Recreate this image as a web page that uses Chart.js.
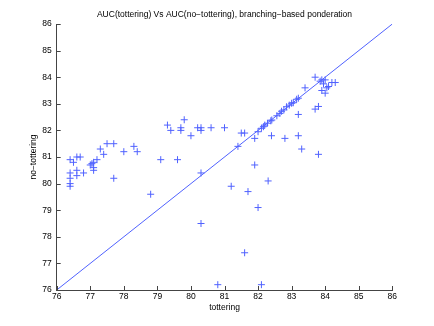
<!DOCTYPE html>
<html>
<head>
<meta charset="utf-8">
<script src="https://cdn.jsdelivr.net/npm/chart.js@4/dist/chart.umd.min.js"></script>
<style>
html,body{margin:0;padding:0;background:#fff;}
#wrap{width:434px;height:326px;position:relative;}
</style>
</head>
<body>
<div id="wrap"><canvas id="c" width="434" height="326"></canvas></div>
<script>
// Data
const totteringX = [
  76.4,76.5,76.6,76.7,
  76.4,76.6,76.6,76.8,
  76.4,76.4,76.4,
  77.0,77.05,77.1,77.1,77.1,77.2,
  77.3,77.4,77.5,77.7,77.7,
  78.0,78.3,78.4,
  78.8,79.1,79.6,
  79.3,79.4,79.7,79.7,79.8,80.0,
  80.2,80.3,80.3,80.6,81.0,
  80.3,80.3,80.8,81.2,
  81.4,81.5,81.6,
  81.6,81.7,81.9,81.9,82.0,82.1,82.3,82.4,
  82.0,82.1,82.16,82.2,82.28,82.38,82.41,82.56,82.65,82.7,82.77,82.85,82.93,83.0,83.05,83.15,83.2,
  83.4,
  82.8,83.2,83.3,83.8,83.2,83.7,83.8,
  83.7,83.85,83.9,83.95,84.0,84.2,84.3,84.05,84.1,83.9,84.0
];
const noTotteringY = [
  80.9,80.8,81.0,81.0,
  80.4,80.5,80.3,80.4,
  80.2,80.0,79.9,
  80.7,80.75,80.8,80.6,80.5,80.9,
  81.3,81.1,81.5,81.5,80.2,
  81.2,81.4,81.2,
  79.6,80.9,80.9,
  82.2,82.0,82.1,82.0,82.4,81.8,
  82.1,82.1,82.0,82.1,82.1,
  80.4,78.5,76.2,79.9,
  81.4,81.9,81.9,
  77.4,79.7,80.7,81.7,79.1,76.2,80.1,81.8,
  81.95,82.08,82.14,82.2,82.27,82.36,82.39,82.55,82.64,82.72,82.77,82.89,82.95,83.02,83.04,83.17,83.21,
  83.6,
  81.7,81.8,81.3,81.1,82.6,82.8,82.9,
  84.0,83.85,83.9,83.75,83.9,83.8,83.8,83.6,83.65,83.5,83.4
];
const diagonal = [76, 86];
const axisTicks = [76,77,78,79,80,81,82,83,84,85,86];

const points = totteringX.map((x, i) => ({x: x, y: noTotteringY[i]}));
const linePts = diagonal.map(v => ({x: v, y: v}));

const BLUE = '#5062ff';
const AXIS = '#444';
const FONT = "'Liberation Sans', Arial, Helvetica, sans-serif";

const inwardTicks = {
  id: 'inwardTicks',
  afterDraw(chart) {
    const ctx = chart.ctx;
    const xs = chart.scales.x, ys = chart.scales.y;
    const ca = chart.chartArea;
    ctx.save();
    ctx.strokeStyle = AXIS;
    ctx.lineWidth = 1;
    ctx.beginPath();
    xs.ticks.forEach((t, i) => {
      const px = Math.round(xs.getPixelForTick(i)) + 0.5;
      ctx.moveTo(px, ca.bottom);
      ctx.lineTo(px, ca.bottom - 4);
    });
    ys.ticks.forEach((t, i) => {
      const py = Math.round(ys.getPixelForTick(i)) + 0.5;
      ctx.moveTo(ca.left, py);
      ctx.lineTo(ca.left + 4, py);
    });
    ctx.stroke();
    ctx.restore();
  }
};

new Chart(document.getElementById('c'), {
  type: 'scatter',
  data: {
    datasets: [
      {
        data: points,
        pointStyle: 'cross',
        pointRadius: 3.5,
        pointBorderWidth: 1,
        borderColor: BLUE,
        backgroundColor: BLUE,
        showLine: false
      },
      {
        data: linePts,
        showLine: true,
        pointRadius: 0,
        borderColor: BLUE,
        borderWidth: 1,
        fill: false
      }
    ]
  },
  options: {
    responsive: false,
    animation: false,
    events: [],
    layout: { padding: { left: 0, right: 41.7, top: 0, bottom: 0 } },
    plugins: {
      legend: { display: false },
      tooltip: { enabled: false },
      title: {
        display: true,
        fullSize: false,
        text: 'AUC(tottering) Vs AUC(no\u2212tottering), branching\u2212based ponderation',
        color: '#000',
        font: { family: FONT, size: 8.5, weight: 'normal' },
        padding: { top: 10, bottom: 3.8 }
      }
    },
    scales: {
      x: {
        type: 'linear',
        min: 76, max: 86,
        afterBuildTicks(s) { s.ticks = axisTicks.map(v => ({value: v})); },
        afterFit(s) { s.height = 36; },
        grid: { display: false, drawTicks: false },
        border: { display: true, color: AXIS, width: 1 },
        ticks: { color: '#000', font: { family: FONT, size: 8.5 }, padding: 2, maxRotation: 0 },
        title: {
          display: true, text: 'tottering', color: '#000',
          font: { family: FONT, size: 8.5 },
          padding: { top: 0, bottom: 13.2 }
        }
      },
      y: {
        type: 'linear',
        min: 76, max: 86,
        afterBuildTicks(s) { s.ticks = axisTicks.map(v => ({value: v})); },
        afterFit(s) { s.width = 56.7; },
        grid: { display: false, drawTicks: false },
        border: { display: true, color: AXIS, width: 1 },
        ticks: { color: '#000', font: { family: FONT, size: 8.5 }, padding: 5 },
        title: {
          display: true, text: 'no\u2212tottering', color: '#000',
          font: { family: FONT, size: 8.5 },
          padding: { top: 28.9, bottom: 0 }
        }
      }
    }
  },
  plugins: [inwardTicks]
});
</script>
</body>
</html>
